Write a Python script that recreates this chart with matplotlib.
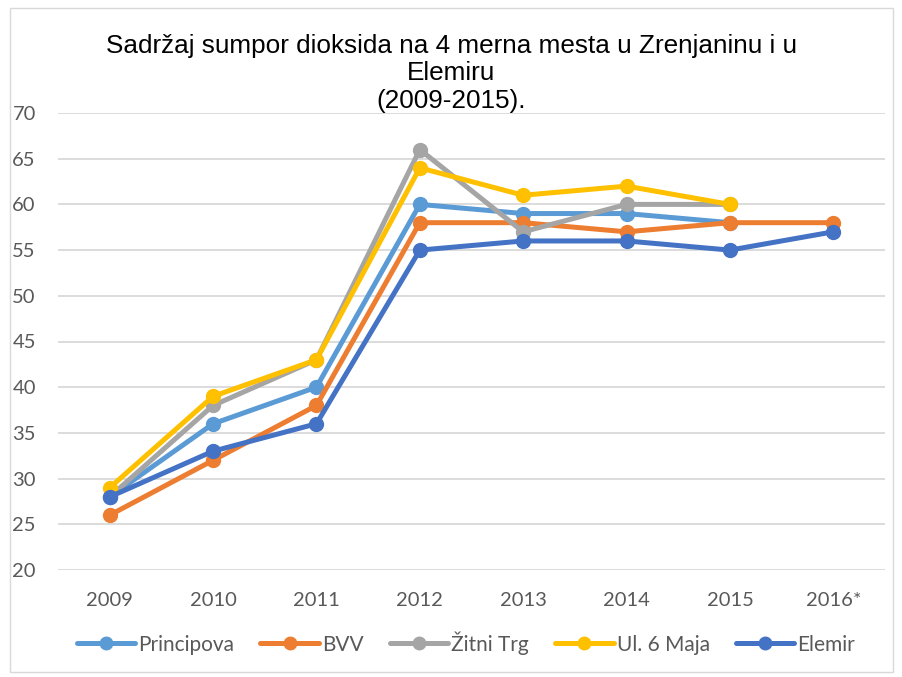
import matplotlib
matplotlib.use("Agg")
import matplotlib.pyplot as plt
import numpy as np
from matplotlib.patches import Rectangle

categories = ["2009", "2010", "2011", "2012", "2013", "2014", "2015", "2016*"]
principova = [28, 36, 40, 60, 59, 59, 58, None]
bvv = [26, 32, 38, 58, 58, 57, 58, 58]
zitni_trg = [28, 38, 43, 66, 57, 60, 60, None]
ul_6_maja = [29, 39, 43, 64, 61, 62, 60, None]
elemir = [28, 33, 36, 55, 56, 56, 55, 57]

series_names = ["Principova", "BVV", "Žitni Trg", "Ul. 6 Maja", "Elemir"]
series_values = [principova, bvv, zitni_trg, ul_6_maja, elemir]
colors = ["#5B9BD5", "#ED7D31", "#A5A5A5", "#FFC000", "#4472C4"]
yticks = [20, 25, 30, 35, 40, 45, 50, 55, 60, 65, 70]

fig = plt.figure(figsize=(9.03, 6.77), dpi=100)
fig.patches.append(Rectangle((10/903, 1-672/677), 883/903, 664/677, transform=fig.transFigure,
                             fill=False, edgecolor="#D9D9D9", linewidth=1.0))
ax = fig.add_axes([58/903, 1-570/677, 827/903, 457/677])

x = np.arange(len(categories))
for name, vals, c in zip(series_names, series_values, colors):
    xs = [xi for xi, v in zip(x, vals) if v is not None]
    ys = [v for v in vals if v is not None]
    ax.plot(xs, ys, color=c, linewidth=3.6, marker="o", markersize=10,
            label=name, solid_capstyle="round", solid_joinstyle="round")

ax.set_xlim(-0.5, len(categories) - 0.5)
ax.set_ylim(20, 70)
ax.set_yticks(yticks)
ax.set_xticks(x)
ax.set_xticklabels(categories)
ax.yaxis.grid(True, color="#D9D9D9", linewidth=1.3)
ax.set_axisbelow(True)
for s in ax.spines.values():
    s.set_visible(False)
ax.tick_params(axis="both", length=0, labelsize=14.5, labelcolor="#595959")
ax.tick_params(axis="x", pad=16)
ax.tick_params(axis="y", pad=16)
for lab in ax.get_xticklabels() + ax.get_yticklabels():
    lab.set_family("Lato")

title_lines = ["Sadržaj sumpor dioksida na 4 merna mesta u Zrenjaninu i u", "Elemiru", "(2009-2015)."]
for i, line in enumerate(title_lines):
    fig.text(0.5, 1-(46 + 27.5*i)/677, line, ha="center", va="center", fontsize=18.8,
             family="Liberation Sans", color="#000000")

leg = fig.legend(loc="center", bbox_to_anchor=(466/903, 1-643/677), ncol=5, frameon=False,
                 prop={"family": "Lato", "size": 15}, handlelength=2.8,
                 columnspacing=1.26, handletextpad=0.15, markerscale=0.9)
for t in leg.get_texts():
    t.set_color("#595959")

fig.savefig("out.png", dpi=100)
